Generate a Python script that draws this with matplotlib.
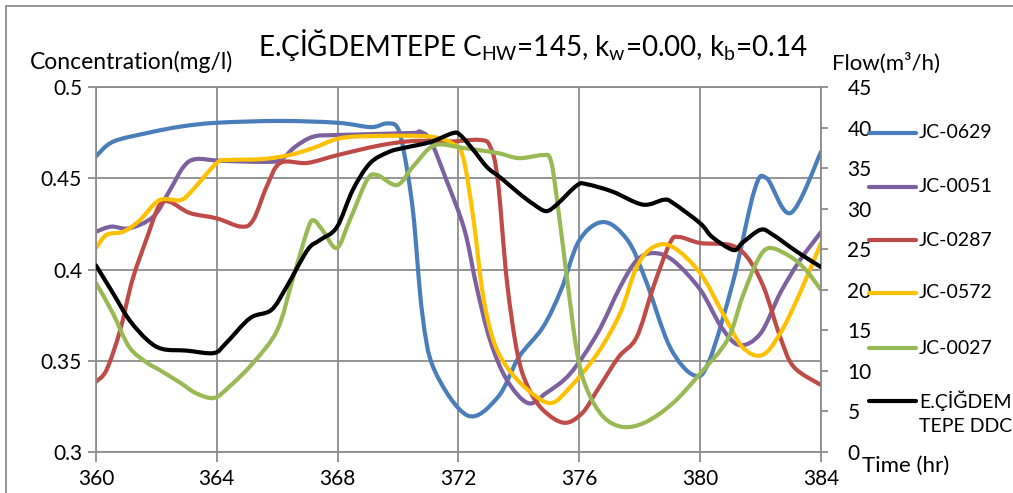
import numpy as np
import matplotlib
matplotlib.use("Agg")
import matplotlib.pyplot as plt
from matplotlib.lines import Line2D
from matplotlib.patches import Rectangle, PathPatch
from matplotlib.path import Path

# Concentration series (mg/l)
t_0629 = [360, 360.56, 361.7, 362.8, 364, 366.1, 368, 369.1, 369.6, 369.97, 370.2,
          370.5, 370.8, 371.2, 372.3, 373.3, 374.0, 374.8, 375.4, 376, 376.8, 377.6,
          378.2, 379, 379.8, 380.3, 381.1, 381.8, 382.2, 383.0, 384]
c_0629 = [0.462, 0.470, 0.4748, 0.4783, 0.4804, 0.4814, 0.4804, 0.478, 0.480, 0.478, 0.4638,
          0.431, 0.376, 0.345, 0.320, 0.330, 0.352, 0.3685, 0.389, 0.416, 0.426, 0.416,
          0.394, 0.3575, 0.342, 0.350, 0.394, 0.4436, 0.450, 0.431, 0.4644]

t_0051 = [360, 360.5, 361.1, 361.9, 362.45, 362.9, 363.3, 364.1, 365.5, 366.1, 366.6,
          367.2, 368, 370.5, 370.7, 371.06, 371.6, 372.2, 372.6, 373.05, 373.6, 374.3,
          374.9, 375.7, 376.6, 377.35, 377.9, 378.45, 379.1, 380, 380.7, 381.3, 382,
          382.65, 383.3, 384]
c_0051 = [0.4207, 0.4235, 0.4226, 0.429, 0.4436, 0.4563, 0.4605, 0.4596, 0.459, 0.460, 0.4673,
          0.4728, 0.4737, 0.4748, 0.4755, 0.471, 0.449, 0.4216, 0.3904, 0.361, 0.3395, 0.3268,
          0.3323, 0.343, 0.365, 0.3904, 0.405, 0.409, 0.405, 0.389, 0.3685, 0.3586, 0.365,
          0.3871, 0.405, 0.4205]

t_0287 = [360, 360.35, 360.8, 361.2, 361.7, 362.1, 362.45, 363.1, 364, 364.8, 365.2,
          365.65, 366.1, 367, 368, 369.4, 370.5, 371.6, 372.7, 373.05, 373.3, 373.6,
          373.95, 374.3, 374.8, 375.5, 376.1, 376.6, 377.3, 377.9, 378.45, 379, 379.3,
          380, 381, 381.55, 382.1, 382.65, 383.1, 384]
c_0287 = [0.3385, 0.345, 0.3668, 0.394, 0.418, 0.4353, 0.437, 0.431, 0.428, 0.4235, 0.427,
          0.4454, 0.4584, 0.4584, 0.4627, 0.468, 0.4704, 0.470, 0.471, 0.4673, 0.449, 0.394,
          0.354, 0.3356, 0.323, 0.316, 0.3214, 0.334, 0.352, 0.363, 0.3904, 0.4145, 0.4178,
          0.4145, 0.4134, 0.4069, 0.3904, 0.363, 0.3466, 0.3367]

t_0572 = [360, 360.35, 360.9, 361.45, 362.1, 362.8, 363.2, 364, 364.4, 365.5, 366.4,
          367.2, 368.1, 369.4, 371.06, 371.8, 372.15, 372.5, 372.8, 373.15, 373.6, 374.3,
          375.05, 375.7, 376.6, 377.35, 377.9, 378.45, 379.1, 380, 380.75, 381.4, 382.05,
          382.65, 383.3, 384]
c_0572 = [0.4118, 0.419, 0.4207, 0.427, 0.438, 0.438, 0.4436, 0.4584, 0.460, 0.4605, 0.4627,
          0.4666, 0.472, 0.4732, 0.4728, 0.469, 0.4616, 0.427, 0.387, 0.3614, 0.3466, 0.334,
          0.3268, 0.3356, 0.354, 0.376, 0.4014, 0.4123, 0.4123, 0.398, 0.376, 0.3575, 0.3531,
          0.365, 0.387, 0.4145]

t_0027 = [360, 360.56, 361.1, 361.7, 362.1, 362.8, 363.3, 363.9, 364.4, 365.2, 366,
          366.5, 367, 367.2, 367.5, 367.97, 368.4, 368.97, 369.3, 369.97, 370.5, 371.2,
          372.15, 373.3, 374.0, 374.8, 375.05, 375.25, 375.6, 375.93, 376.26, 376.8,
          377.45, 378.2, 379.1, 380, 380.9, 381.4, 381.9, 382.3, 383, 383.5, 384]
c_0027 = [0.3926, 0.376, 0.3575, 0.3488, 0.345, 0.3378, 0.3323, 0.3296, 0.3356, 0.3488, 0.3668,
          0.394, 0.4216, 0.427, 0.4216, 0.4118, 0.427, 0.449, 0.4518, 0.4463, 0.4565, 0.468,
          0.4666, 0.4638, 0.461, 0.4627, 0.460, 0.4397, 0.394, 0.354, 0.334, 0.3192,
          0.3137, 0.3164, 0.3268, 0.343, 0.3614, 0.385, 0.405, 0.4118, 0.4069, 0.3997, 0.3888]

# Flow (m3/h) at E.ÇİĞDEMTEPE DDC
t_flow = [360, 360.56, 361.1, 361.7, 362.2, 363, 363.9, 364.3, 365.1, 365.8, 366.3,
          367, 367.4, 367.97, 368.5, 369.07, 369.7, 370.2, 371.06, 371.8, 372.05, 372.5,
          372.95, 373.4, 374, 374.5, 374.9, 375.25, 375.93, 376.26, 377.1, 378.1, 378.8,
          379.1, 380, 380.4, 381.1, 381.4, 382, 382.4, 383.2, 384]
q_flow = [23.0, 19.6, 16.3, 13.8, 12.7, 12.5, 12.2, 13.4, 16.5, 17.5, 20.3,
          24.9, 26.1, 27.7, 32.3, 35.6, 37.0, 37.5, 38.2, 39.3, 39.1, 37.2,
          35.1, 33.8, 31.9, 30.5, 29.7, 30.5, 32.9, 33.0, 32.1, 30.5, 31.1,
          30.7, 28.2, 26.5, 24.9, 25.8, 27.4, 26.8, 24.7, 22.8]

names = ["JC-0629", "JC-0051", "JC-0287", "JC-0572", "JC-0027", "E.ÇİĞDEM\nTEPE DDC"]
colors = ["#4A7EBB", "#7D60A0", "#BE4B48", "#FFC000", "#98B954", "black"]

x_ticks = [360, 364, 368, 372, 376, 380, 384]
y_ticks = [0.3, 0.35, 0.4, 0.45, 0.5]
y_ticklabels = ["0.3", "0.35", "0.4", "0.45", "0.5"]
flow_ticks = list(range(0, 50, 5))

plt.rcParams["font.family"] = ["Lato", "DejaVu Sans"]
plt.rcParams["mathtext.fontset"] = "custom"
plt.rcParams["mathtext.rm"] = "Lato"

LW = 3.0


def smooth_line(ax, x, y, color):
    # Excel-style smoothed line: bezier segments through the points (Catmull-Rom tangents)
    p = np.column_stack([x, y]).astype(float)
    pp = np.vstack([p[0], p, p[-1]])
    verts = [p[0]]
    codes = [Path.MOVETO]
    for i in range(len(p) - 1):
        p0, p1, p2, p3 = pp[i], pp[i + 1], pp[i + 2], pp[i + 3]
        verts += [p1 + (p2 - p0) / 6, p2 - (p3 - p1) / 6, p2]
        codes += [Path.CURVE4] * 3
    patch = PathPatch(Path(verts, codes), facecolor="none", edgecolor=color, lw=LW,
                      capstyle="round", joinstyle="round")
    ax.add_patch(patch)


W, H = 1013, 493
fig = plt.figure(figsize=(W / 100, H / 100), dpi=100)
ax = fig.add_axes([96 / W, 1 - 452 / H, (821 - 96) / W, (452 - 87) / H])

grid_c = "#8C8C8C"
series = [(t_0629, c_0629), (t_0051, c_0051), (t_0287, c_0287),
          (t_0572, c_0572), (t_0027, c_0027)]
for (tt, cc), col in zip(series, colors[:5]):
    smooth_line(ax, tt, cc, col)

ax.set_xlim(360, 384)
ax.set_ylim(0.3, 0.5)
ax.set_xticks(x_ticks)
ax.set_yticks(y_ticks)
ax.set_yticklabels(y_ticklabels)
ax.grid(True, color=grid_c, lw=1.3)
ax.set_axisbelow(True)
for s in ax.spines.values():
    s.set_color(grid_c)
    s.set_linewidth(1.3)
ax.tick_params(axis="both", colors=grid_c, labelcolor="black", labelsize=15, width=1.3)
ax.tick_params(axis="x", length=7, pad=5)
ax.tick_params(axis="y", length=6, pad=4)

ax2 = ax.twinx()
smooth_line(ax2, t_flow, q_flow, colors[5])
ax2.set_ylim(0, 45)
ax2.set_xlim(360, 384)
ax2.set_yticks(flow_ticks)
for s in ax2.spines.values():
    s.set_visible(False)
ax2.tick_params(axis="y", colors=grid_c, labelcolor="black", labelsize=15, width=1.3,
                length=5, pad=14)

# chart border
fig.add_artist(Rectangle((6 / W, -0.1), 1.2, 1 - 6 / H + 0.1, transform=fig.transFigure,
                         fill=False, edgecolor="#8C8C8C", lw=1.3))

fig.text(533 / W, 1 - 45 / H,
         r"E.ÇİĞDEMTEPE C$_{\mathrm{HW}}$=145, k$_{\mathrm{w}}$=0.00, k$_{\mathrm{b}}$=0.14",
         ha="center", va="center", fontsize=20)
fig.text(30 / W, 1 - 62 / H, "Concentration(mg/l)", ha="left", va="center", fontsize=16.5)
fig.text(832 / W, 1 - 74 / H, "Flow(m³/h)", ha="left", va="bottom", fontsize=16)
fig.text(862 / W, 1 - 466 / H, "Time (hr)", ha="left", va="center", fontsize=16)

# legend drawn by hand to keep the Excel layout
leg_y = [133, 187, 240, 293, 348, 401]
for name, col, yy in zip(names, colors, leg_y):
    fig.add_artist(Line2D([869 / W, 916 / W], [1 - yy / H, 1 - yy / H], color=col, lw=LW,
                          transform=fig.transFigure, solid_capstyle="round"))
    first, *rest = name.split("\n")
    fig.text(919 / W, 1 - yy / H, first, ha="left", va="center", fontsize=14)
    for k, line in enumerate(rest):
        fig.text(919 / W, 1 - (yy + 26 * (k + 1)) / H, line, ha="left", va="center", fontsize=14)

fig.savefig("out.png", dpi=100)
